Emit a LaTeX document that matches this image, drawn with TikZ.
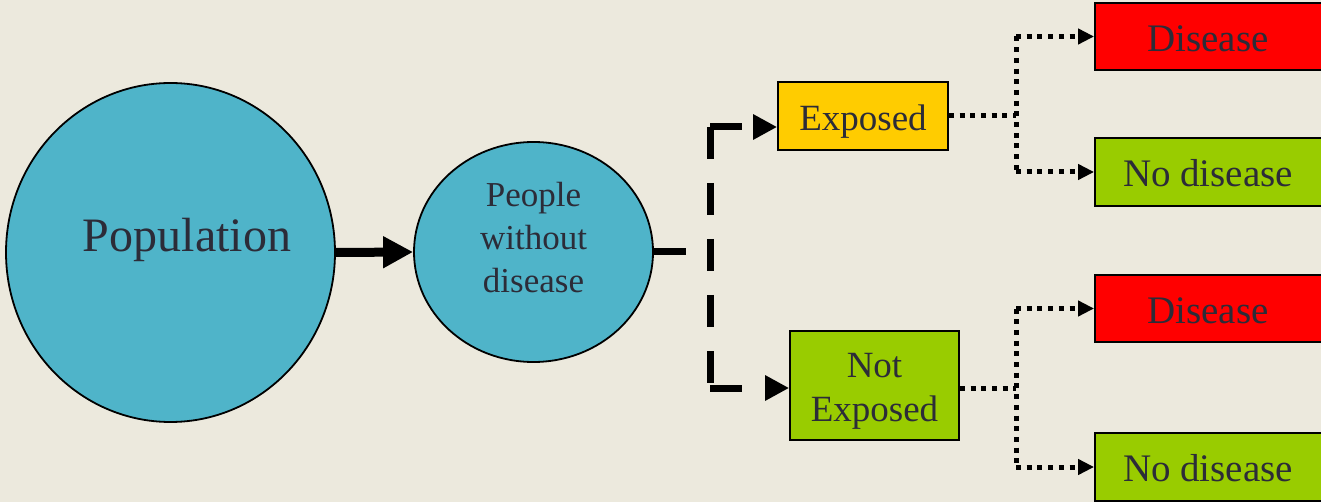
\documentclass[tikz,border=0pt]{standalone}
\usepackage{fontspec}
\setmainfont{Liberation Serif}
\usetikzlibrary{arrows.meta,shapes.geometric}
\definecolor{pagebg}{HTML}{ECE9DD}
\definecolor{circfill}{HTML}{4FB4C9}
\definecolor{expfill}{HTML}{FFCC00}
\definecolor{greenfill}{HTML}{99CC00}
\definecolor{redfill}{HTML}{FF0000}
\definecolor{ink}{HTML}{2C2C38}
\tikzset{
  circ/.style={ellipse, draw=black, line width=1.8pt, fill=circfill, inner sep=0pt},
  box/.style={rectangle, draw=black, line width=1.8pt, inner sep=0pt},
  txt/.style={text=ink, align=center, inner sep=0pt},
  boxtxt/.style={txt, font=\fontsize{37}{44}\selectfont},
  outtxt/.style={txt, font=\fontsize{39}{46}\selectfont},
  thickarrow/.style={line width=9pt, -{Triangle[length=30pt,width=30pt]}},
  dashline/.style={line width=7pt, dash pattern=on 32pt off 24pt},
  dashconn/.style={dashline, -{Triangle[length=24pt,width=24pt]}},
  dotline/.style={line width=5pt, dash pattern=on 5pt off 5.7pt},
  dotconn/.style={dotline, -{Triangle[length=16pt,width=15pt]}},
}
\begin{document}
\begin{tikzpicture}[x=1pt,y=-1pt]
\useasboundingbox (0,0) rectangle (1321,502);
\fill[pagebg] (0,0) rectangle (1321,502);
\clip (0,0) rectangle (1321,502);

% circles
\node[circ, minimum width=329pt, minimum height=339pt] (pop) at (170.5,252.5) {};
\node[txt, font=\fontsize{48}{58}\selectfont] (poptxt) at (187,240) {Population};
\node[circ, minimum width=239pt, minimum height=220pt] (ppl) at (533.5,252) {};
\node[txt, font=\fontsize{35}{43}\selectfont] (ppltxt) at (533.5,238) {People\\without\\disease};

% exposure boxes
\node[box, fill=expfill, minimum width=170pt, minimum height=68pt] (exp) at (863,116) {};
\node[boxtxt] (exptxt) at (863,122) {Exposed};
\node[box, fill=greenfill, minimum width=169pt, minimum height=109pt] (nexp) at (874.5,385.5) {};
\node[boxtxt] (nexptxt) at (874.5,391.5) {Not\\Exposed};

% outcome boxes
\node[box, fill=redfill, minimum width=230pt, minimum height=67pt] (dis1) at (1210,36.5) {};
\node[outtxt] (dis1txt) at (1208,38.5) {Disease};
\node[box, fill=greenfill, minimum width=230pt, minimum height=68pt] (nod1) at (1210,172) {};
\node[outtxt] (nod1txt) at (1208,173.5) {No disease};
\node[box, fill=redfill, minimum width=230pt, minimum height=67pt] (dis2) at (1210,308.5) {};
\node[outtxt] (dis2txt) at (1208,310.5) {Disease};
\node[box, fill=greenfill, minimum width=230pt, minimum height=68pt] (nod2) at (1210,467) {};
\node[outtxt] (nod2txt) at (1208,468.5) {No disease};

% population -> people without disease
\draw[thickarrow] (pop.east) -- (ppl.west);

% dashed split to the exposure groups
\coordinate (expin) at ([yshift=-11pt]exp.west);
\coordinate (nexpin) at ([yshift=-2.5pt]nexp.west);
\coordinate (nexpout) at ([yshift=-2.5pt]nexp.east);
\coordinate (split) at (710,252);
\coordinate (ctop) at (split |- expin);
\coordinate (cbot) at (split |- nexpin);
\draw[dashline] (ppl.east) -- (split);
\draw[dashline] (ctop) -- (cbot);
\draw[dashconn] (ctop) -- (expin);
\draw[dashconn] (cbot) -- (nexpin);

% dotted split to the outcomes, exposed group
\coordinate (ea) at (1016,116);
\coordinate (eat) at (ea |- dis1.west);
\coordinate (eab) at (ea |- nod1.west);
\draw[dotline] (exp.east) -- (ea);
\draw[dotline] (eat) -- (eab);
\draw[dotconn] (eat) -- (dis1.west);
\draw[dotconn] (eab) -- (nod1.west);

% dotted split to the outcomes, unexposed group
\coordinate (na) at (1016,388);
\coordinate (nat) at (na |- dis2.west);
\coordinate (nab) at (na |- nod2.west);
\draw[dotline] (nexpout) -- (na);
\draw[dotline] (nat) -- (nab);
\draw[dotconn] (nat) -- (dis2.west);
\draw[dotconn] (nab) -- (nod2.west);
\end{tikzpicture}
\end{document}
